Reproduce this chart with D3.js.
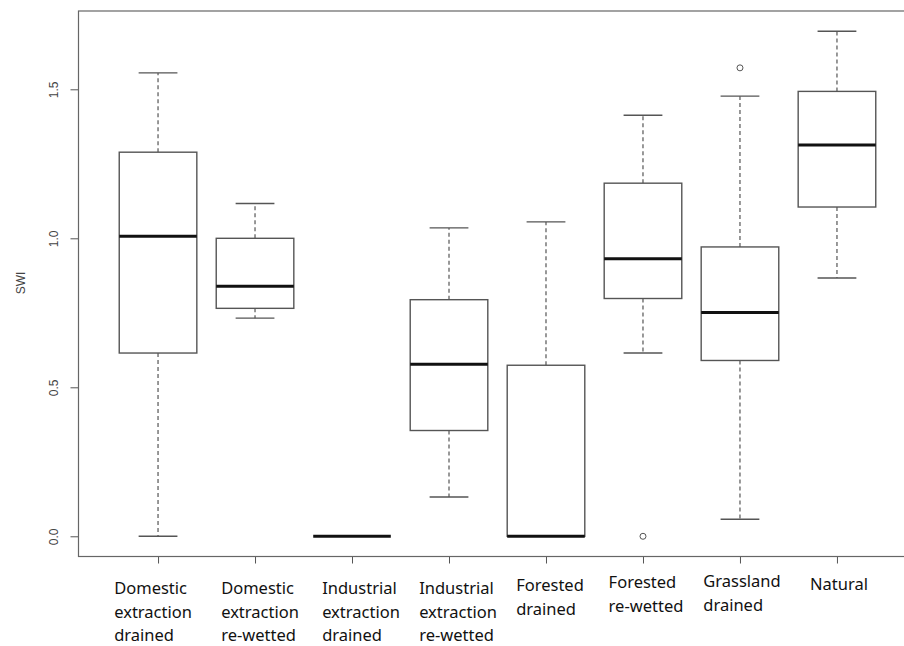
<!DOCTYPE html>
<html>
<head>
<meta charset="utf-8">
<script src="https://cdn.jsdelivr.net/npm/d3@7"></script>
<style>
  body { margin: 0; background: #fff; }
  svg { display: block; }
</style>
</head>
<body>
<svg id="vis" width="904" height="646"></svg>
<script>
// Datos: un boxplot por categoria
const CATEGORIAS = [
  ["Domestic", "extraction", "drained"],
  ["Domestic", "extraction", "re-wetted"],
  ["Industrial", "extraction", "drained"],
  ["Industrial", "extraction", "re-wetted"],
  ["Forested", "drained"],
  ["Forested", "re-wetted"],
  ["Grassland", "drained"],
  ["Natural"]
];
const BIGOTE_INF = [0, 0.732, 0, 0.132, 0, 0.615, 0.057, 0.867];
const Q1 = [0.615, 0.765, 0, 0.355, 0, 0.798, 0.590, 1.105];
const MEDIANA = [1.007, 0.839, 0, 0.577, 0, 0.931, 0.751, 1.313];
const Q3 = [1.289, 1.0, 0, 0.794, 0.574, 1.185, 0.971, 1.493];
const BIGOTE_SUP = [1.555, 1.117, 0, 1.035, 1.055, 1.413, 1.477, 1.695];
const ATIPICOS = [[], [], [], [], [], [0], [1.572], []];
const TICKS_Y = [0, 0.5, 1.0, 1.5];
const ETIQUETA_Y = "SWI";

const SVG = d3.select("#vis");

// Escalas (rango extendido 4% como en R)
const x = d3.scaleLinear().domain([0.18, 8.82]).range([78.5, 916.5]);
const y = d3.scaleLinear().domain([-0.0678, 1.7628]).range([556.5, 11]);

const datos = CATEGORIAS.map((c, i) => ({
  pos: i + 1,
  lineas: c,
  lw: BIGOTE_INF[i], q1: Q1[i], med: MEDIANA[i], q3: Q3[i], uw: BIGOTE_SUP[i],
  out: ATIPICOS[i]
}));

const anchoCaja = 0.4; // media caja en unidades de x
const anchoTope = 0.2;
const gris = "#555";

// Eje Y
const ejeY = SVG.append("g")
  .attr("transform", `translate(${x(0.18)},0)`)
  .call(d3.axisLeft(y).tickValues(TICKS_Y).tickSize(8).tickFormat(d3.format(".1f")));
ejeY.select(".domain").remove();
ejeY.selectAll(".tick line").attr("stroke", gris);
ejeY.selectAll(".tick text")
  .attr("fill", "#444")
  .attr("font-family", "Liberation Sans, Arial, sans-serif")
  .attr("font-size", 12)
  .attr("x", 0).attr("dy", 0)
  .attr("text-anchor", "middle")
  .attr("transform", "translate(-21,0) rotate(-90)");

// Eje X (solo marcas)
const ejeX = SVG.append("g")
  .attr("transform", `translate(0,${y(-0.0678)})`)
  .call(d3.axisBottom(x).tickValues(datos.map(d => d.pos)).tickSize(7).tickFormat(""));
ejeX.select(".domain").remove();
ejeX.selectAll(".tick line").attr("stroke", gris);

// Marco
SVG.append("rect")
  .attr("x", x(0.18)).attr("y", y(1.7628))
  .attr("width", x(8.82) - x(0.18))
  .attr("height", y(-0.0678) - y(1.7628))
  .attr("fill", "none").attr("stroke", "#666").attr("stroke-width", 1.2);

// Etiqueta del eje Y
SVG.append("text")
  .attr("transform", `translate(25,${y(0.85)}) rotate(-90)`)
  .attr("text-anchor", "middle")
  .attr("fill", "#444")
  .attr("font-family", "Liberation Sans, Arial, sans-serif")
  .attr("font-size", 12)
  .text(ETIQUETA_Y);

// Cajas
const cajas = SVG.selectAll(".caja")
  .data(datos)
  .join("g")
  .attr("class", "caja");

// bigotes punteados
cajas.append("line")
  .attr("x1", d => x(d.pos)).attr("x2", d => x(d.pos))
  .attr("y1", d => y(d.q3)).attr("y2", d => y(d.uw))
  .attr("stroke", gris).attr("stroke-width", 1.2).attr("stroke-dasharray", "4,3");
cajas.append("line")
  .attr("x1", d => x(d.pos)).attr("x2", d => x(d.pos))
  .attr("y1", d => y(d.q1)).attr("y2", d => y(d.lw))
  .attr("stroke", gris).attr("stroke-width", 1.2).attr("stroke-dasharray", "4,3");

// topes
["uw", "lw"].forEach(k => {
  cajas.append("line")
    .attr("x1", d => x(d.pos - anchoTope)).attr("x2", d => x(d.pos + anchoTope))
    .attr("y1", d => y(d[k])).attr("y2", d => y(d[k]))
    .attr("stroke", gris).attr("stroke-width", 1.4);
});

// caja
cajas.append("rect")
  .attr("x", d => x(d.pos - anchoCaja))
  .attr("width", d => x(d.pos + anchoCaja) - x(d.pos - anchoCaja))
  .attr("y", d => y(d.q3))
  .attr("height", d => y(d.q1) - y(d.q3))
  .attr("fill", "white").attr("stroke", gris).attr("stroke-width", 1.4);

// mediana
cajas.append("line")
  .attr("x1", d => x(d.pos - anchoCaja)).attr("x2", d => x(d.pos + anchoCaja))
  .attr("y1", d => y(d.med)).attr("y2", d => y(d.med))
  .attr("stroke", "#111").attr("stroke-width", 3);

// atipicos
cajas.selectAll("circle")
  .data(d => d.out.map(v => ({ pos: d.pos, v })))
  .join("circle")
  .attr("cx", d => x(d.pos)).attr("cy", d => y(d.v))
  .attr("r", 3)
  .attr("fill", "none").attr("stroke", gris).attr("stroke-width", 1);

// Etiquetas de categoria (bloques alineados a la izquierda)
const desplaz = [-5, 5, 9, 9, 4, 3, 2, 2];
const subidaPrimera = [0, 0, 0, 0, 3, 6, 7, 4];
const etiquetas = SVG.selectAll(".etiqueta")
  .data(datos)
  .join("text")
  .attr("class", "etiqueta")
  .attr("font-family", "Noto Sans, Open Sans, sans-serif")
  .attr("font-size", 16.5)
  .attr("fill", "#111");
etiquetas.each(function (d, i) {
  const t = d3.select(this);
  d.lineas.forEach((l, j) => {
    t.append("tspan").attr("y", 594 - subidaPrimera[i] + j * 23.5).text(l);
  });
  let maxAncho = 0;
  t.selectAll("tspan").each(function () {
    maxAncho = Math.max(maxAncho, this.getComputedTextLength());
  });
  t.selectAll("tspan").attr("x", x(d.pos) - maxAncho / 2 + desplaz[i]);
});
</script>
</body>
</html>
